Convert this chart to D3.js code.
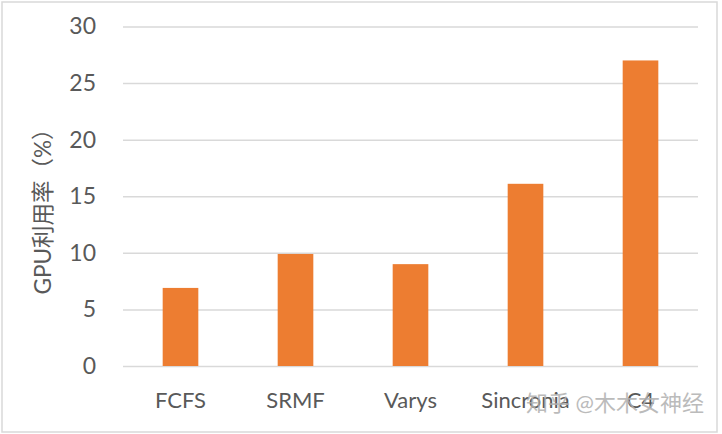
<!DOCTYPE html>
<html><head><meta charset="utf-8">
<script src="https://cdn.jsdelivr.net/npm/d3@7"></script>
<style>body{margin:0;background:#fff}svg{display:block}text{font-family:Lato,"Noto Sans CJK SC",sans-serif}</style>
</head><body><svg id="c" width="722" height="434"></svg>
<script>
const categories = ["FCFS","SRMF","Varys","Sincronia","C4"];
const values = [6.9, 9.9, 9.0, 16.1, 27.0];
const yTicks = [0,5,10,15,20,25,30];
const yLabel = "GPU利用率（%）";
const watermark = "知乎 @木木女神经";

const svg = d3.select("#c");
svg.append("rect").attr("x",2).attr("y",2).attr("width",715).attr("height",430)
  .attr("fill","#fff").attr("stroke","#d9d9d9").attr("stroke-width",1.5);

const x = d3.scaleBand().domain(categories).range([123,698]).paddingInner(0.69).paddingOuter(0.345);
const y = d3.scaleLinear().domain([0,30]).range([366,26.5]);

const gy = svg.append("g").attr("transform","translate(123,0)")
  .call(d3.axisLeft(y).tickValues(yTicks).tickSize(-575).tickPadding(27));
gy.select(".domain").remove();
gy.selectAll("line").attr("stroke","#d9d9d9").attr("stroke-width",1.5);
gy.selectAll("text").attr("fill","#595959").style("font-size","23px").style("font-family","Lato");

svg.selectAll("rect.bar").data(values).join("rect").attr("class","bar")
  .attr("x",(d,i)=>x(categories[i])).attr("width",x.bandwidth())
  .attr("y",d=>y(d)).attr("height",d=>y(0)-y(d)).attr("fill","#ed7d31");

const gx = svg.append("g").attr("transform","translate(0,366)")
  .call(d3.axisBottom(x).tickSize(0).tickPadding(26));
gx.select(".domain").remove();
gx.selectAll("text").attr("fill","#595959").style("font-size","22px").style("font-family","Lato");

svg.append("text").attr("transform","translate(51,206) rotate(-90)")
  .attr("text-anchor","middle").attr("fill","#595959").style("font-size","22.5px").text(yLabel);

svg.append("text").attr("x",704).attr("y",411).attr("text-anchor","end")
  .attr("fill","#b0b0b0").attr("opacity",0.85).style("font-size","22px").text(watermark);
</script></body></html>
